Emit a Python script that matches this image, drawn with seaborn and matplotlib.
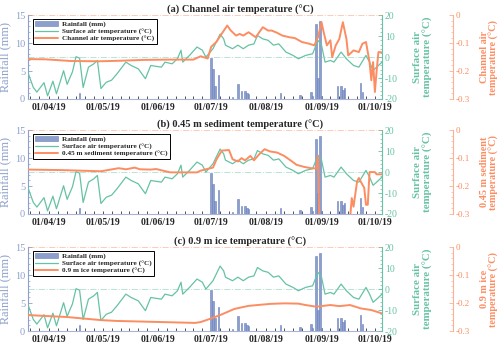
import numpy as np
import pandas as pd
import matplotlib
matplotlib.use('Agg')
import matplotlib.pyplot as plt
import matplotlib.dates as mdates
from matplotlib.ticker import MultipleLocator, FormatStrFormatter
from matplotlib.patches import Patch
from matplotlib.lines import Line2D
import seaborn as sns

sns.set_theme(style='ticks')
plt.rcParams['font.family'] = ['Liberation Serif', 'DejaVu Serif']
plt.rcParams['axes.unicode_minus'] = False

START = '2019-03-20'
END = '2019-10-05'

# ---- data (day offsets from START) ----
rain_days = [29, 103, 104, 105, 107, 115, 118, 120, 122, 123, 124, 142, 153, 159, 160,
             162, 163, 164, 165, 174, 176, 177, 178, 187, 188]
rain_mm = [1.0, 7.3, 5.4, 2.4, 4.3, 0.4, 2.7, 1.4, 1.4, 1.1, 0.9, 1.0, 0.8, 1.3, 0.6,
           13.4, 3.7, 13.9, 0.6, 2.3, 2.3, 1.6, 1.9, 2.9, 1.3]

air_days = [0, 3, 5, 9, 11, 14, 16, 20, 22, 25, 27, 29, 31, 34, 37, 39, 41, 44, 47, 50,
            55, 58, 62, 66, 69, 75, 77, 81, 84, 86, 87, 91, 95, 98, 100, 104, 108, 110,
            111, 115, 118, 121, 124, 127, 129, 132, 135, 138, 141, 145, 149, 152, 156,
            160, 163, 165, 167, 170, 172, 176, 179, 183, 186, 190, 192, 194, 196, 199]
air_temp = [-7.5, -14.5, -16.7, -12.2, -18.5, -11.5, -17.5, -6.5, -13.0, -7.0, 0.2, -0.5,
            -14.5, -4.8, -3.2, -1.6, -15.0, -12.0, -11.0, -8.0, -2.4, -4.0, -5.6, -10.3,
            -4.0, -4.8, -2.4, -3.2, -0.8, 3.3, -2.4, 1.0, 4.8, 3.3, 0.0, 4.0, 11.0, 8.7,
            5.7, 4.0, 5.7, 4.0, 5.7, 6.3, 10.3, 8.7, 8.0, 5.7, 6.3, 2.4, 0.8, -0.8, 0.8,
            1.6, 8.0, 5.7, -2.4, -1.6, -2.4, 2.4, -0.8, -4.0, -4.8, 0.8, -2.4, -6.3,
            -4.8, -2.4]

channel_days = [0, 10, 24, 40, 52, 65, 80, 93, 97, 101, 103, 106, 108, 112, 114, 117,
                119, 121, 124, 128, 132, 135, 137, 140, 143, 147, 150, 154, 158, 161,
                163, 165, 166, 168, 170, 171, 173, 175, 177, 179, 180, 183, 186, 188,
                190, 192, 193, 194, 195, 196, 197, 199]
channel_temp = [-0.157, -0.158, -0.164, -0.165, -0.163, -0.160, -0.159, -0.159, -0.147,
                -0.155, -0.113, -0.095, -0.075, -0.037, -0.055, -0.073, -0.067, -0.073,
                -0.061, -0.079, -0.043, -0.055, -0.055, -0.063, -0.073, -0.079, -0.082,
                -0.096, -0.102, -0.108, -0.079, -0.025, -0.055, -0.108, -0.090, -0.150,
                -0.108, -0.085, -0.025, -0.085, -0.144, -0.126, -0.132, -0.102, -0.096,
                -0.168, -0.233, -0.168, -0.275, -0.198, -0.132, -0.133]

sediment_days = [0, 20, 41, 51, 55, 60, 63, 69, 72, 76, 80, 95, 97, 100, 104, 106, 109,
                 113, 115, 118, 120, 122, 125, 127, 130, 133, 136, 140, 144, 148, 151,
                 155, 159, 162, 163, 164, 170, 180, 181, 182, 183, 185, 186, 188, 189,
                 190, 191, 192, 195, 196, 199]
sediment_temp = [-0.141, -0.143, -0.147, -0.136, -0.140, -0.134, -0.140, -0.141, -0.139,
                 -0.145, -0.151, -0.151, -0.145, -0.140, -0.134, -0.104, -0.073, -0.071,
                 -0.104, -0.112, -0.100, -0.108, -0.092, -0.108, -0.086, -0.068, -0.076,
                 -0.080, -0.092, -0.110, -0.124, -0.131, -0.136, -0.137, -0.092, -0.400,
                 -0.400, -0.400, -0.320, -0.243, -0.274, -0.183, -0.171, -0.195, -0.206,
                 -0.267, -0.267, -0.150, -0.150, -0.158, -0.158]

ice_days = [0, 22, 41, 50, 69, 94, 97, 103, 108, 116, 124, 136, 144, 152, 156, 162, 170,
            175, 181, 187, 193, 199]
ice_temp = [-0.243, -0.250, -0.261, -0.264, -0.267, -0.271, -0.268, -0.255, -0.243,
            -0.221, -0.210, -0.203, -0.201, -0.202, -0.207, -0.213, -0.207, -0.211,
            -0.207, -0.219, -0.225, -0.237]

panel_titles = ['(a) Channel air temperature (°C)',
                '(b) 0.45 m sediment temperature (°C)',
                '(c) 0.9 m ice temperature (°C)']
axis3_labels = ['Channel air\ntemperature (°C)',
                '0.45 m sediment\ntemperature (°C)',
                '0.9 m ice\ntemperature (°C)']
legend3_labels = ['Channel air temperature (°C)',
                  '0.45 m sediment temperature (°C)',
                  '0.9 m ice temperature (°C)']
rain_label = 'Rainfall (mm)'
air_label = 'Surface air temperature (°C)'

BLUE = '#8da0cb'
BLUE_EDGE = '#6a7fc0'
GREEN = '#66c2a5'
ORANGE = '#fc8d62'
ORANGE_LIGHT = '#fdb092'

t0 = pd.Timestamp(START)
def to_dates(days):
    return t0 + pd.to_timedelta(days, unit='D')

rain_dates = to_dates(rain_days)
air_dates = to_dates(air_days)
series3 = [(to_dates(channel_days), channel_temp),
           (to_dates(sediment_days), sediment_temp),
           (to_dates(ice_days), ice_temp)]

fig = plt.figure(figsize=(5.0, 3.47), dpi=100)
bottoms = [0.7147, 0.3833, 0.0461]
L, W, H = 0.056, 0.708, 0.2415

for i in range(3):
    ax = fig.add_axes([L, bottoms[i], W, H])
    ax2 = ax.twinx()
    ax3 = ax.twinx()

    ax.bar(rain_dates, rain_mm, width=0.9, color=BLUE, edgecolor=BLUE_EDGE,
           linewidth=0.4, zorder=2)
    sns.lineplot(x=air_dates, y=air_temp, ax=ax2, color=GREEN, linewidth=0.9,
                 legend=False)
    d3, v3 = series3[i]
    sns.lineplot(x=d3, y=v3, ax=ax3, color=ORANGE, linewidth=1.4, legend=False)

    ax2.axhline(0, color=GREEN, ls='-.', lw=0.7, alpha=0.45)
    ax3.axhline(0, color=ORANGE, ls='-.', lw=0.7, alpha=0.45, clip_on=False)

    ax.set_xlim(pd.Timestamp(START), pd.Timestamp(END))
    ax.set_ylim(0, 15)
    ax2.set_ylim(-20, 20)
    ax3.set_ylim(-0.3, 0)

    # x axis
    ax.xaxis.set_major_locator(mdates.MonthLocator(bymonthday=1))
    ax.xaxis.set_major_formatter(mdates.DateFormatter('%d/%m/%y'))
    ax.xaxis.set_minor_locator(mdates.DayLocator(bymonthday=[6, 11, 16, 21, 26]))
    ax.tick_params(axis='x', which='both', direction='in', color='#333333',
                   length=2.5, width=0.6, labelsize=7, pad=3)
    for lab in ax.get_xticklabels():
        lab.set_fontweight('bold')

    # left rainfall axis
    ax.set_yticks([0, 5, 10, 15])
    ax.yaxis.set_minor_locator(MultipleLocator(1))
    ax.tick_params(axis='y', which='major', direction='in', colors=BLUE,
                   length=3, width=0.6, labelsize=7.5, pad=2)
    ax.tick_params(axis='y', which='minor', direction='in', colors=BLUE,
                   length=1.5, width=0.5)
    ax.set_ylabel(rain_label, color=BLUE, fontsize=8.8)
    ax.yaxis.set_label_coords(-0.048, 0.5)
    ax.set_xlabel('')

    for s in ['top', 'right']:
        ax.spines[s].set_visible(False)
    ax.spines['left'].set_color(BLUE)
    ax.spines['bottom'].set_color('#a9b4d6')
    ax.spines['left'].set_linewidth(0.8)
    ax.spines['bottom'].set_linewidth(0.8)

    # green axis
    ax2.set_yticks([-20, -10, 0, 10, 20])
    ax2.yaxis.set_minor_locator(MultipleLocator(2))
    ax2.tick_params(axis='y', which='major', direction='in', colors=GREEN,
                    length=3, width=0.6, labelsize=7, pad=2)
    ax2.tick_params(axis='y', which='minor', direction='in', colors=GREEN,
                    length=1.5, width=0.5)
    ax2.set_ylabel('Surface air\ntemperature (°C)', color=GREEN, fontsize=7.8,
                   fontweight='bold', linespacing=1.1)
    ax2.yaxis.set_label_coords(1.088, 0.5)
    for s in ['top', 'left', 'bottom']:
        ax2.spines[s].set_visible(False)
    ax2.spines['right'].set_color(GREEN)
    ax2.spines['right'].set_linewidth(0.8)

    # orange axis
    ax3.spines['right'].set_position(('axes', 1.2))
    ax3.set_yticks([-0.3, -0.2, -0.1, 0])
    ax3.yaxis.set_major_formatter(FormatStrFormatter('%g'))
    ax3.yaxis.set_minor_locator(MultipleLocator(0.02))
    ax3.tick_params(axis='y', which='major', direction='in', colors=ORANGE_LIGHT,
                    labelcolor=ORANGE, length=3, width=0.6, labelsize=6.5, pad=2)
    ax3.tick_params(axis='y', which='minor', direction='in', colors=ORANGE_LIGHT,
                    length=1.5, width=0.5)
    ax3.set_ylabel(axis3_labels[i], color=ORANGE, fontsize=7.3, fontweight='bold',
                   linespacing=1.05)
    ax3.yaxis.set_label_coords(1.276, 0.5)
    for s in ['top', 'left', 'bottom']:
        ax3.spines[s].set_visible(False)
    ax3.spines['right'].set_color(ORANGE_LIGHT)
    ax3.spines['right'].set_linewidth(0.8)

    ax.set_title(panel_titles[i], x=0.6, fontsize=7.5, fontweight='bold', pad=2)

    handles = [Patch(facecolor=BLUE, edgecolor=BLUE_EDGE, linewidth=0.4),
               Line2D([], [], color=GREEN, lw=0.9),
               Line2D([], [], color=ORANGE, lw=1.4)]
    leg = ax3.legend(handles, [rain_label, air_label, legend3_labels[i]],
                     loc='upper left', bbox_to_anchor=(0.013, 0.955),
                     borderaxespad=0, frameon=True, fancybox=False,
                     edgecolor='black', framealpha=1,
                     prop={'weight': 'bold', 'size': 5.2},
                     handlelength=3.2, handleheight=0.6, borderpad=0.3,
                     labelspacing=0.15, handletextpad=0.6)
    leg.get_frame().set_linewidth(0.7)

fig.savefig('out.png', dpi=100)
